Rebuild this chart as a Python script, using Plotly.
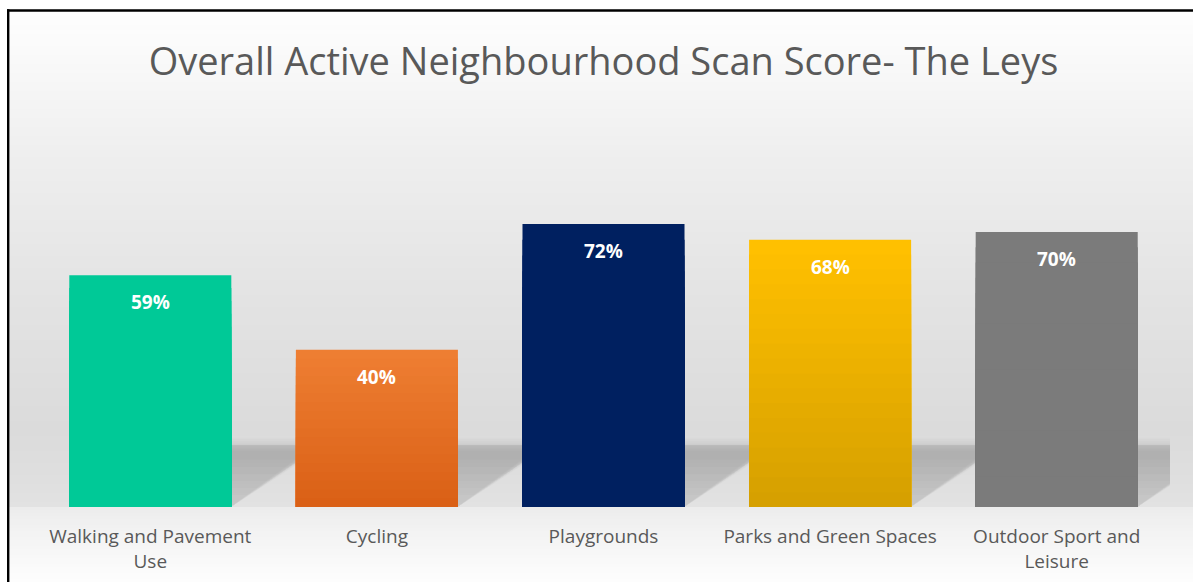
import plotly.graph_objects as go
import numpy as np

# ---------------- data ----------------
categories = ["Walking and Pavement<br>Use", "Cycling", "Playgrounds",
              "Parks and Green Spaces", "Outdoor Sport and<br>Leisure"]
values = [59, 40, 72, 68, 70]          # percent
top_colors = ["#00C997", "#EE7E32", "#002060", "#FFC000", "#7B7B7B"]
bottom_colors = ["#00C997", "#DA6016", "#002060", "#D6A000", "#7B7B7B"]
title_text = "Overall Active Neighbourhood Scan Score- The Leys"

W, H = 1193, 582
ML, MR, MT, MB = 37, 23, 114, 75
PW, PH = W - ML - MR, H - MT - MB


def hex2rgb(h):
    h = h.lstrip("#")
    return np.array([int(h[i:i + 2], 16) for i in (0, 2, 4)], dtype=float)


def mix(c1, c2, t):
    c = hex2rgb(c1) * (1 - t) + hex2rgb(c2) * t
    return "rgb(%d,%d,%d)" % tuple(np.round(c))


def px_x(p):  # window pixel -> paper x
    return (p - ML) / PW


def px_y(p):  # window pixel -> paper y
    return (H - MB - p) / PH


fig = go.Figure()
idx = list(range(len(categories)))
vals = [v / 100 for v in values]

# base bars
fig.add_trace(go.Bar(x=idx, y=vals, marker=dict(color=top_colors, line=dict(width=0)),
                     hoverinfo="skip", showlegend=False))
# vertical colour gradient (overlay steps)
N = 18
for k in range(1, N):
    f = 1 - k / N
    cols = [mix(t, b, k / (N - 1)) for t, b in zip(top_colors, bottom_colors)]
    fig.add_trace(go.Bar(x=idx, y=[v * f for v in vals],
                         marker=dict(color=cols, line=dict(width=0)),
                         hoverinfo="skip", showlegend=False))

# ---------------- background gradient ----------------
shapes = []
stops_y = [10, 60, 150, 300, 430, 470, 507]
stops_c = [254, 249, 239, 227, 219, 222, 226]
stops_y2 = [507, 530, 560, 582]
stops_c2 = [236, 242, 249, 253]
step = 3
for y0 in range(10, 507, step):
    y1 = min(y0 + step, 507)
    c = int(round(np.interp((y0 + y1) / 2, stops_y, stops_c)))
    shapes.append(dict(type="rect", xref="paper", yref="paper",
                       x0=px_x(8), x1=px_x(1200), y0=px_y(y1), y1=px_y(y0),
                       fillcolor="rgb(%d,%d,%d)" % (c, c, c), line=dict(width=0),
                       layer="below"))
for y0 in range(507, 585, step):
    y1 = y0 + step
    c = int(round(np.interp((y0 + y1) / 2, stops_y2, stops_c2)))
    shapes.append(dict(type="rect", xref="paper", yref="paper",
                       x0=px_x(8), x1=px_x(1200), y0=px_y(y1), y1=px_y(y0),
                       fillcolor="rgb(%d,%d,%d)" % (c, c, c), line=dict(width=0),
                       layer="below"))

# ---------------- floor shadows (soft, layered) ----------------
hw = 0.3575


def para(a, b, h0, h1, s):
    return "M %f,%f L %f,%f L %f,%f L %f,%f Z" % (a + s * h0, h0, b + s * h0, h0,
                                                  b + s * h1, h1, a + s * h1, h1)


K = 9
for i in idx:
    a, b = i - hw, i + hw
    for k in range(K):
        t = k / (K - 1)
        shapes.append(dict(type="path", xref="x", yref="y",
                           path=para(a, b, 0.0, 0.143 + 0.034 * t, 2.35 + 0.35 * t),
                           fillcolor="rgba(0,0,0,0.013)", line=dict(width=0), layer="below"))
    for k in range(6):
        h0 = 0.03 + 0.018 * k
        shapes.append(dict(type="path", xref="x", yref="y",
                           path=para(a, b, h0, 0.158, 2.53),
                           fillcolor="rgba(0,0,0,0.010)", line=dict(width=0), layer="below"))

# ---------------- border ----------------
shapes.append(dict(type="line", xref="paper", yref="paper",
                   x0=px_x(7), x1=px_x(1200), y0=px_y(10.5), y1=px_y(10.5),
                   line=dict(color="#000000", width=2.5)))
shapes.append(dict(type="line", xref="paper", yref="paper",
                   x0=px_x(8.2), x1=px_x(8.2), y0=px_y(9.3), y1=px_y(600),
                   line=dict(color="#000000", width=2.4)))

# ---------------- value labels ----------------
annotations = []
for i, v in zip(idx, values):
    annotations.append(dict(x=i, y=v / 100, xref="x", yref="y", text="%d%%" % v,
                            showarrow=False, yshift=-27, yanchor="middle",
                            font=dict(family="Open Sans", size=19, color="#FFFFFF", weight="bold")))

fig.update_layout(
    template="none",
    width=W, height=H,
    margin=dict(l=ML, r=MR, t=MT, b=MB, pad=0, autoexpand=False),
    paper_bgcolor="#FFFFFF", plot_bgcolor="rgba(0,0,0,0)",
    barmode="overlay", bargap=0.285,
    showlegend=False,
    title=dict(text=title_text, x=0.5, xref="paper", xanchor="center",
               y=1 - 62 / H, yref="container", yanchor="middle",
               font=dict(family="Open Sans", size=38, color="#595959")),
    xaxis=dict(range=[-0.5, 4.5], tickvals=idx, ticktext=categories,
               showgrid=False, zeroline=False, showline=False, ticks="",
               automargin=False, ticklabelstandoff=16,
               tickfont=dict(family="Open Sans", size=19, color="#595959"),
               fixedrange=True),
    yaxis=dict(range=[0, 1], showgrid=False, zeroline=False, showline=False,
               showticklabels=False, ticks="", automargin=False, fixedrange=True),
    shapes=shapes,
    annotations=annotations,
)

fig.write_html("out.html", config={"displayModeBar": False},
               post_script="document.body.style.margin='0px';document.body.style.overflow='hidden';")
